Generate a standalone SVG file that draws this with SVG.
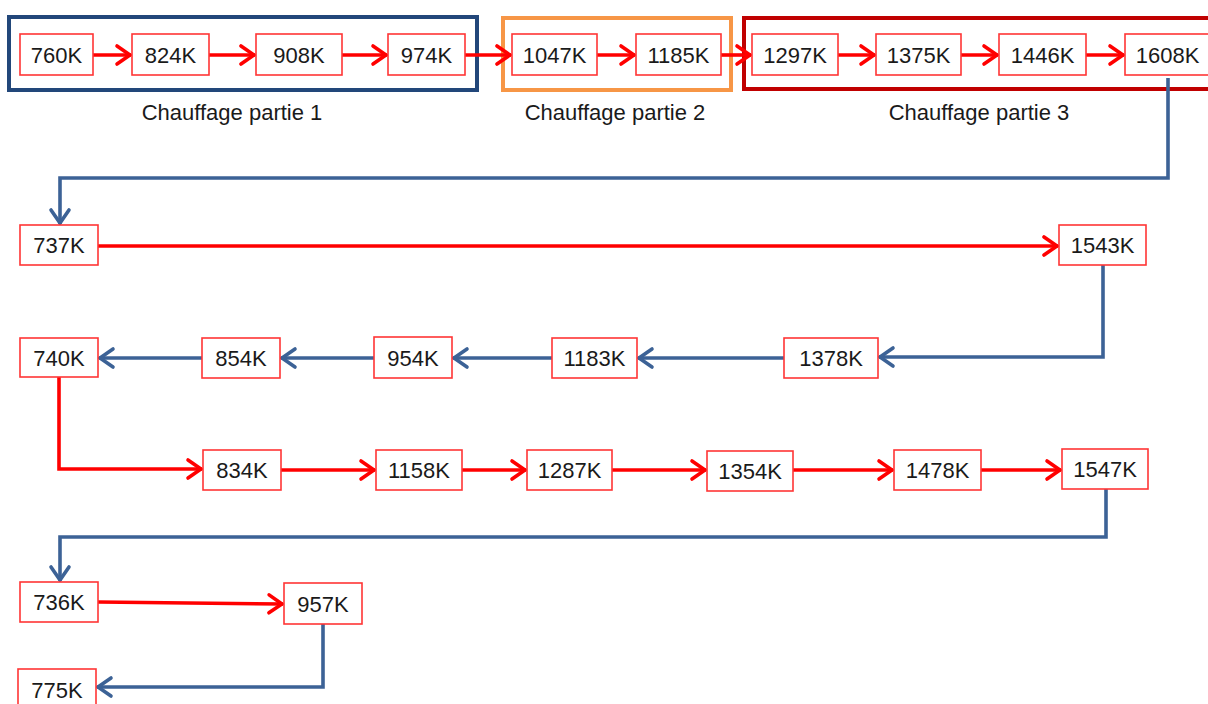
<svg xmlns="http://www.w3.org/2000/svg" width="1208" height="704" viewBox="0 0 1208 704">
<style>
.n rect{fill:#fff;stroke:#FF3535;stroke-width:1.6}
.n text{font-family:"Liberation Sans",Arial,sans-serif;font-size:22px;fill:#1a1a1a;text-anchor:middle}
.lbl{font-family:"Liberation Sans",Arial,sans-serif;font-size:22px;fill:#1a1a1a;text-anchor:middle}
.r{fill:none;stroke:#FF0000;stroke-width:3.6;marker-end:url(#ar)}
.b{fill:none;stroke:#3C6296;stroke-width:3.6;stroke-linejoin:miter;marker-end:url(#ab)}
.grp{fill:none;stroke-width:4}
</style>
<defs>
<marker id="ar" markerUnits="userSpaceOnUse" orient="auto" refX="0" refY="0" markerWidth="20" markerHeight="24" viewBox="-18 -12 20 24" overflow="visible">
<path d="M-14,-9 L-1,0 L-14,9" fill="none" stroke="#FF0000" stroke-width="3.6" stroke-linecap="round"/>
</marker>
<marker id="ab" markerUnits="userSpaceOnUse" orient="auto" refX="0" refY="0" markerWidth="20" markerHeight="24" viewBox="-18 -12 20 24" overflow="visible">
<path d="M-14,-9 L-1,0 L-14,9" fill="none" stroke="#3C6296" stroke-width="3.6" stroke-linecap="round"/>
</marker>
</defs>
<rect width="1208" height="704" fill="#fff"/>
<g id="groups">
<g id="group1"><rect class="grp" x="9" y="17" width="468" height="73" stroke="#22477A"/><text class="lbl" x="232" y="120">Chauffage partie 1</text></g>
<g id="group2"><rect class="grp" x="503" y="18" width="228" height="72" stroke="#F79646"/><text class="lbl" x="615" y="120">Chauffage partie 2</text></g>
<g id="group3"><rect class="grp" x="744" y="18" width="470" height="71" stroke="#C00000"/><text class="lbl" x="979" y="120">Chauffage partie 3</text></g>
</g>
<g id="connectors">
<line class="r" x1="93" y1="55" x2="131" y2="55"/>
<line class="r" x1="209" y1="55" x2="255" y2="55"/>
<line class="r" x1="342" y1="55" x2="387" y2="55"/>
<line class="r" x1="465" y1="55" x2="511" y2="55"/>
<line class="r" x1="597" y1="55" x2="635" y2="55"/>
<line class="r" x1="721" y1="55" x2="751" y2="55"/>
<line class="r" x1="838" y1="55" x2="875" y2="55"/>
<line class="r" x1="961" y1="55" x2="998" y2="55"/>
<line class="r" x1="1086" y1="55" x2="1124" y2="55"/>
<path class="b" d="M1168,78 V178 H60 V224"/>
<line class="r" x1="98" y1="246" x2="1058" y2="246"/>
<path class="b" d="M1103,265 V357 H879"/>
<line class="b" x1="784" y1="358" x2="638" y2="358"/>
<line class="b" x1="552" y1="358" x2="453" y2="358"/>
<line class="b" x1="374" y1="358" x2="281" y2="358"/>
<line class="b" x1="202" y1="358" x2="99" y2="358"/>
<path class="r" d="M59,377 V469 H202"/>
<line class="r" x1="281" y1="470" x2="375" y2="470"/>
<line class="r" x1="462" y1="470" x2="526" y2="470"/>
<line class="r" x1="612" y1="470" x2="706" y2="470"/>
<line class="r" x1="793" y1="470" x2="893" y2="470"/>
<line class="r" x1="981" y1="470" x2="1061" y2="470"/>
<path class="b" d="M1106,489 V537 H60 V581"/>
<line class="r" x1="98" y1="602" x2="283" y2="604"/>
<path class="b" d="M323,624 V687 H97"/>
</g>
<g id="n760" class="n"><rect x="20" y="34" width="73" height="41"/><text x="56.5" y="62.5">760K</text></g>
<g id="n824" class="n"><rect x="132" y="34" width="77" height="41"/><text x="170.5" y="62.5">824K</text></g>
<g id="n908" class="n"><rect x="256" y="34" width="86" height="41"/><text x="299" y="62.5">908K</text></g>
<g id="n974" class="n"><rect x="388" y="34" width="77" height="41"/><text x="426.5" y="62.5">974K</text></g>
<g id="n1047" class="n"><rect x="512" y="34" width="85" height="41"/><text x="554.5" y="62.5">1047K</text></g>
<g id="n1185" class="n"><rect x="636" y="34" width="85" height="41"/><text x="678.5" y="62.5">1185K</text></g>
<g id="n1297" class="n"><rect x="752" y="34" width="86" height="41"/><text x="795" y="62.5">1297K</text></g>
<g id="n1375" class="n"><rect x="876" y="34" width="85" height="41"/><text x="918.5" y="62.5">1375K</text></g>
<g id="n1446" class="n"><rect x="999" y="34" width="87" height="41"/><text x="1042.5" y="62.5">1446K</text></g>
<g id="n1608" class="n"><rect x="1125" y="34" width="85" height="41"/><text x="1167.5" y="62.5">1608K</text></g>
<g id="n737" class="n"><rect x="20" y="225" width="78" height="40"/><text x="59" y="253">737K</text></g>
<g id="n1543" class="n"><rect x="1059" y="225" width="87" height="40"/><text x="1102.5" y="253">1543K</text></g>
<g id="n740" class="n"><rect x="20" y="338" width="78" height="39"/><text x="59" y="365.5">740K</text></g>
<g id="n854" class="n"><rect x="202" y="338" width="78" height="40"/><text x="241" y="366">854K</text></g>
<g id="n954" class="n"><rect x="374" y="337" width="78" height="41"/><text x="413" y="365.5">954K</text></g>
<g id="n1183" class="n"><rect x="552" y="338" width="85" height="40"/><text x="594.5" y="366">1183K</text></g>
<g id="n1378" class="n"><rect x="784" y="338" width="94" height="40"/><text x="831" y="366">1378K</text></g>
<g id="n834" class="n"><rect x="203" y="450" width="78" height="40"/><text x="242" y="478">834K</text></g>
<g id="n1158" class="n"><rect x="376" y="450" width="86" height="40"/><text x="419" y="478">1158K</text></g>
<g id="n1287" class="n"><rect x="527" y="450" width="85" height="40"/><text x="569.5" y="478">1287K</text></g>
<g id="n1354" class="n"><rect x="707" y="451" width="86" height="40"/><text x="750" y="479">1354K</text></g>
<g id="n1478" class="n"><rect x="894" y="450" width="87" height="40"/><text x="937.5" y="478">1478K</text></g>
<g id="n1547" class="n"><rect x="1062" y="449" width="86" height="40"/><text x="1105" y="477">1547K</text></g>
<g id="n736" class="n"><rect x="20" y="582" width="78" height="40"/><text x="59" y="610">736K</text></g>
<g id="n957" class="n"><rect x="284" y="583" width="78" height="41"/><text x="323" y="611.5">957K</text></g>
<g id="n775" class="n"><rect x="18" y="669" width="78" height="42"/><text x="57" y="697.5">775K</text></g>
</svg>
